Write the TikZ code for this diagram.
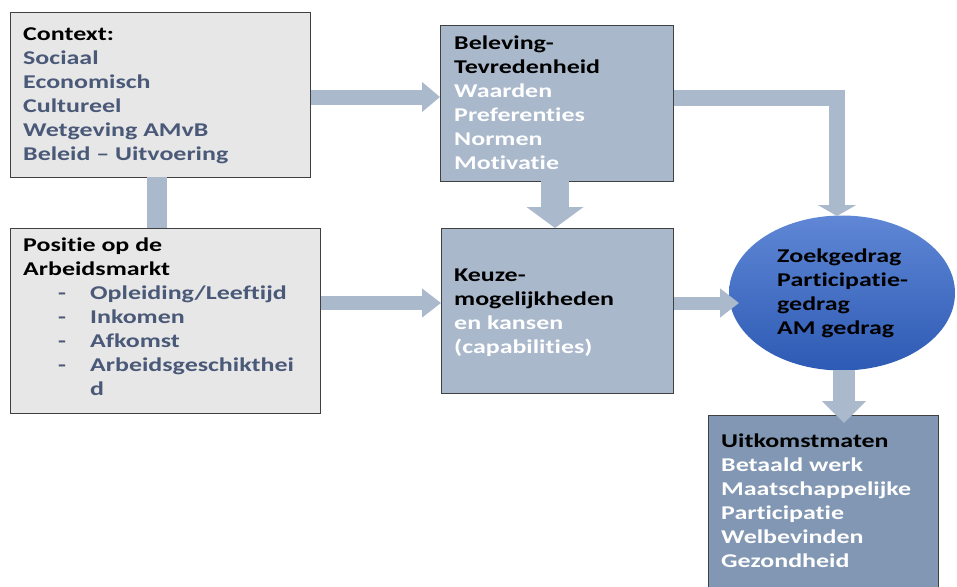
\documentclass[tikz,border=0pt]{standalone}
\usepackage{fontspec}
\setmainfont{Carlito}[Ligatures=NoCommon, FakeStretch=1.33]
\usetikzlibrary{shapes.geometric,arrows.meta}
\definecolor{boxgray}{HTML}{E7E7E7}
\definecolor{boxblue}{HTML}{A9B8CB}
\definecolor{boxdark}{HTML}{8197B3}
\definecolor{arrowc}{HTML}{AAB9CB}
\definecolor{itemc}{HTML}{4A5978}
\definecolor{ellTop}{HTML}{5F87D5}
\definecolor{ellBot}{HTML}{2D5AB4}
\tikzset{
  box/.style={draw=black!75, line width=0.8pt, anchor=north west, inner sep=0pt},
  txt/.style={anchor=north west, inner sep=0pt, align=left,
    font=\fontsize{19.5}{24}\selectfont\bfseries},
  fat/.style={draw=arrowc, line width=#1, line join=miter},
}
\newcommand{\dashitem}[1]{\makebox[32pt][l]{-}#1}
\begin{document}
\begin{tikzpicture}[x=1pt,y=-1pt]
\useasboundingbox (0,0) rectangle (957,586);
\clip (0,0) rectangle (957,586);
% boxes
\node[box, fill=boxgray, minimum width=300pt, minimum height=165pt] (ctx) at (10,12) {};
\node[box, fill=boxgray, minimum width=310pt, minimum height=185pt] (pos) at (10,228) {};
\node[box, fill=boxblue, minimum width=233pt, minimum height=156pt] (bel) at (440,25) {};
\node[box, fill=boxblue, minimum width=232pt, minimum height=165pt] (keu) at (441,228) {};
\node[box, fill=boxdark, minimum width=230pt, minimum height=200pt] (uit) at (708,415) {};
\node[ellipse, top color=ellTop, bottom color=ellBot, draw=none,
  minimum width=226pt, minimum height=155pt, inner sep=0pt] (ell) at (842,293) {};
% arrows
\draw[fat=15pt, -{Triangle[width=29pt,length=18pt]}] (ctx.east |- 0,97) -- (bel.west |- 0,97);
\draw[fat=14pt, -{Triangle[width=28pt,length=19pt]}] (pos.east |- 0,303) -- (keu.west |- 0,303);
\draw[fat=28pt, -{Triangle[width=56pt,length=21pt]}] (555,181) coordinate (a4) -- (a4 |- keu.north);
\draw[fat=16pt, -{Triangle[width=38pt,length=11pt]}] (bel.east |- 0,98) -- (837,98) -- (837,216) coordinate (a5);
\draw[fat=13pt, -{Triangle[width=28pt,length=19pt]}] (keu.east |- 0,303) -- (739,303) coordinate (a6);
\draw[fat=22pt, -{Triangle[width=43pt,length=22pt]}] (844,370) coordinate (a7) -- (844,423);
\fill[arrowc] (147,177) rectangle (167,228);
% texts
\node[txt] (tctx) at (23,28) {Context:\\
  \textcolor{itemc}{Sociaal}\\ \textcolor{itemc}{Economisch}\\ \textcolor{itemc}{Cultureel}\\
  \textcolor{itemc}{Wetgeving AMvB}\\ \textcolor{itemc}{Beleid – Uitvoering}};
\node[txt] (tpos) at (23,238) {Positie op de\\ Arbeidsmarkt\\
  \textcolor{itemc}{\hspace*{35pt}\dashitem{Opleiding/Leeftijd}}\\
  \textcolor{itemc}{\hspace*{35pt}\dashitem{Inkomen}}\\
  \textcolor{itemc}{\hspace*{35pt}\dashitem{Afkomst}}\\
  \textcolor{itemc}{\hspace*{35pt}\dashitem{Arbeidsgeschikthei}}\\
  \textcolor{itemc}{\hspace*{67pt}d}};
\node[txt] (tbel) at (454,36) {Beleving-\\ Tevredenheid\\
  \textcolor{white}{Waarden}\\ \textcolor{white}{Preferenties}\\ \textcolor{white}{Normen}\\ \textcolor{white}{Motivatie}};
\node[txt] (tkeu) at (454,269) {Keuze-\\ mogelijkheden\\
  \textcolor{white}{en kansen}\\ \textcolor{white}{(capabilities)}};
\node[txt] (tell) at (777,249) {Zoekgedrag\\ Participatie-\\ gedrag\\ AM gedrag};
\node[txt] (tuit) at (721,434) {Uitkomstmaten\\
  \textcolor{white}{Betaald werk}\\ \textcolor{white}{Maatschappelijke}\\ \textcolor{white}{Participatie}\\
  \textcolor{white}{Welbevinden}\\ \textcolor{white}{Gezondheid}};
\end{tikzpicture}
\end{document}
